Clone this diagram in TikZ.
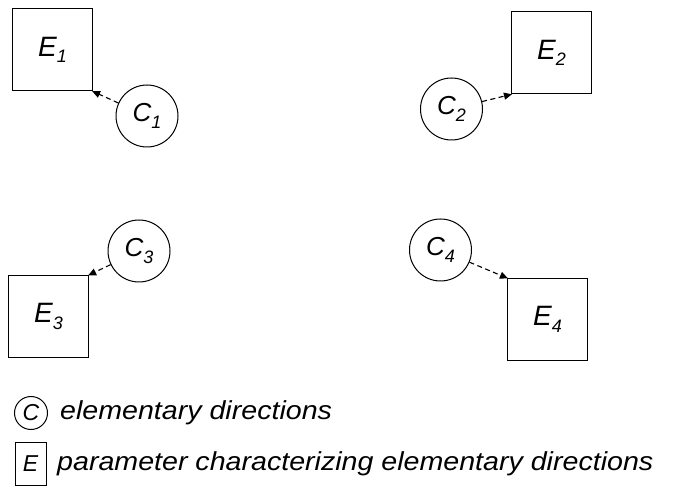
\documentclass[tikz,border=0pt]{standalone}
\usepackage{fontspec}
\setmainfont{Liberation Sans}
\usetikzlibrary{arrows.meta}
\newcommand\sublab[2]{\itshape #1\raisebox{-0.45ex}{\fontsize{18}{18}\selectfont #2}}
\tikzset{
  ebox/.style={draw, line width=1pt, minimum width=80pt, minimum height=82pt, inner sep=0pt, font=\fontsize{28}{28}\selectfont},
  ccirc/.style={draw, circle, line width=1pt, minimum size=62pt, inner sep=0pt, font=\fontsize{26}{26}\selectfont},
  conn/.style={line width=1.1pt, dash pattern=on 5pt off 3.5pt, -{Triangle[length=8pt,width=7pt]}, shorten >=-1pt},
  legtext/.style={anchor=west, inner sep=0pt, xscale=1.1, font=\fontsize{26}{26}\selectfont\itshape}
}
\begin{document}
\begin{tikzpicture}[x=1pt,y=1pt]
\useasboundingbox (0,0) rectangle (673,-497);
\node[ebox] (e1) at (52.5,-50) {\sublab{E}{1}};
\node[ccirc] (c1) at (147,-116) {\sublab{C}{1}};
\node[ebox] (e2) at (551.5,-53) {\sublab{E}{2}};
\node[ccirc] (c2) at (451.5,-109) {\sublab{C}{2}};
\node[ebox] (e3) at (48.5,-316.5) {\sublab{E}{3}};
\node[ccirc] (c3) at (139,-251) {\sublab{C}{3}};
\node[ebox] (e4) at (547.5,-319.5) {\sublab{E}{4}};
\node[ccirc] (c4) at (440.5,-250) {\sublab{C}{4}};
\draw[conn] (c1) -- (e1.south east);
\draw[conn] (c2) -- (e2.south west);
\draw[conn] (c3) -- (e3.north east);
\draw[conn] (c4) -- (e4.north west);
\node[draw, circle, line width=1pt, minimum size=33pt, inner sep=0pt, font=\fontsize{23}{23}\selectfont\itshape] (lc) at (31,-413) {C};
\node[draw, line width=1pt, minimum width=31pt, minimum height=42pt, inner sep=0pt, font=\fontsize{23}{23}\selectfont\itshape] (le) at (30.5,-464) {E};
\node[legtext] (t1) at (60,-413) {elementary directions};
\node[legtext] (t2) at (57,-464) {parameter characterizing elementary directions};
\end{tikzpicture}
\end{document}
